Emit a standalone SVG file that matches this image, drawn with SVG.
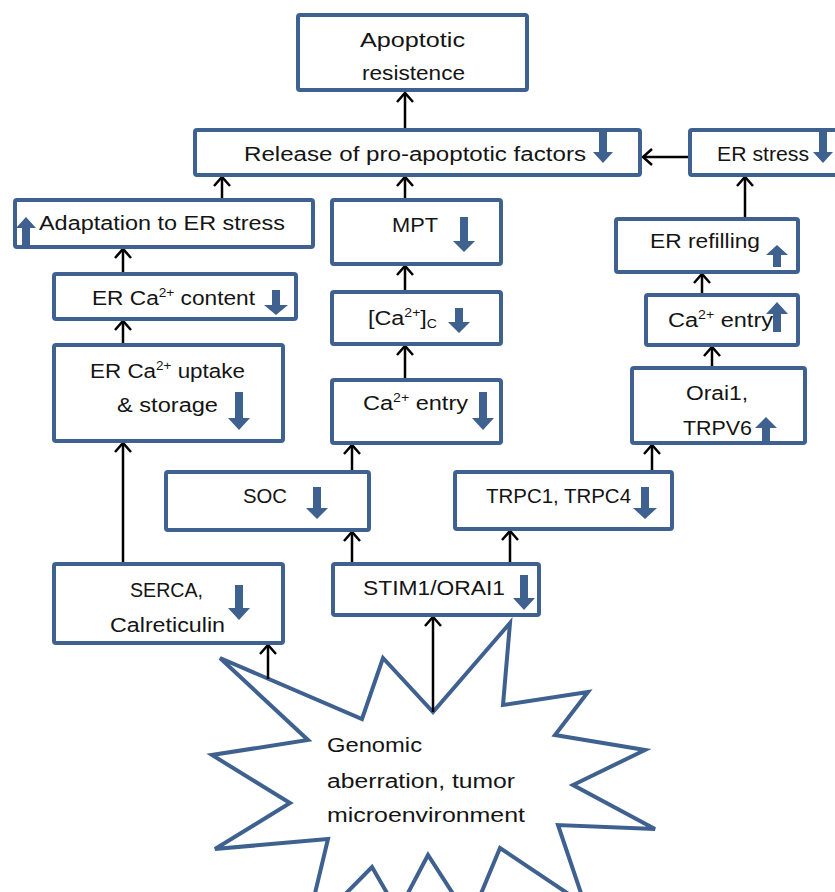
<svg xmlns="http://www.w3.org/2000/svg" xmlns:xlink="http://www.w3.org/1999/xlink" width="835" height="892" viewBox="0 0 835 892">
<style>
.box{fill:#fff;stroke:#3F6190;stroke-width:4;}
.star{fill:#fff;stroke:#3F6190;stroke-width:4;stroke-linejoin:miter;}
.ba{fill:#3F6190;}
.t{font-family:'Liberation Sans',Arial,sans-serif;font-size:20px;fill:#141414;}
.sup{font-size:12px;}
.con{fill:none;stroke:#000;stroke-width:2.5;marker-end:url(#ah);}
</style>
<defs>
<marker id="ah" markerUnits="userSpaceOnUse" markerWidth="24" markerHeight="24" viewBox="-12 -12 24 24" refX="0" refY="0" orient="auto" overflow="visible">
<path d="M-9,-8 L0,0 L-9,8" fill="none" stroke="#000" stroke-width="2.5"/>
</marker>
</defs>
<rect width="835" height="892" fill="#fff"/>

<g id="star">
<polygon class="star" points="220,658 362,719 383,658 433,712 510,623 503,705 588,692 555,735 645,750 573,785 655,829 558,825 585,905 500,848 470,920 428,855 398,912 372,867 305,935 328,839 215,849 290,803 212,755 308,740"/>
<text class="t" x="327" y="752" textLength="95" lengthAdjust="spacingAndGlyphs">Genomic</text>
<text class="t" x="327" y="788" textLength="188" lengthAdjust="spacingAndGlyphs">aberration, tumor</text>
<text class="t" x="327" y="822" textLength="198" lengthAdjust="spacingAndGlyphs">microenvironment</text>
</g>

<g id="connectors">
<path class="con" d="M405,128 V93"/>
<path class="con" d="M222,198 V177"/>
<path class="con" d="M405,198 V177"/>
<path class="con" d="M688,157 H643"/>
<path class="con" d="M745,217 V177"/>
<path class="con" d="M123,272 V249"/>
<path class="con" d="M123,343 V321"/>
<path class="con" d="M405,290 V266"/>
<path class="con" d="M405,378 V346"/>
<path class="con" d="M352,470 V445"/>
<path class="con" d="M352,562 V532"/>
<path class="con" d="M510,562 V531"/>
<path class="con" d="M652,470 V445"/>
<path class="con" d="M712,366 V347"/>
<path class="con" d="M702,293 V274"/>
<path class="con" d="M123,562 V443"/>
<path class="con" d="M268,679 V645"/>
<path class="con" d="M433,712 V617"/>
</g>

<g id="apoptotic">
<rect class="box" x="298" y="15" width="229" height="75" rx="2"/>
<text class="t" x="360" y="47" textLength="105" lengthAdjust="spacingAndGlyphs">Apoptotic</text>
<text class="t" x="362" y="80" textLength="103" lengthAdjust="spacingAndGlyphs">resistence</text>
</g>

<g id="release">
<rect class="box" x="195" y="130" width="445" height="45" rx="2"/>
<text class="t" x="244" y="161" textLength="342" lengthAdjust="spacingAndGlyphs">Release of pro-apoptotic factors</text>
<path class="ba" d="M599,131 H607 V152 H613 L603,163 L593,152 H599 Z"/>
</g>

<g id="er-stress">
<rect class="box" x="690" y="130" width="150" height="45" rx="2"/>
<text class="t" x="717" y="161" textLength="92" lengthAdjust="spacingAndGlyphs">ER stress</text>
<path class="ba" d="M819,131 H827 V152 H833 L823,163 L813,152 H819 Z"/>
</g>

<g id="adaptation">
<rect class="box" x="15" y="200" width="298" height="47" rx="2"/>
<text class="t" x="39" y="230" textLength="246" lengthAdjust="spacingAndGlyphs">Adaptation to ER stress</text>
<path class="ba" d="M26,217 L36,228 H30 V247 H22 V228 H16 Z"/>
</g>

<g id="mpt">
<rect class="box" x="332" y="200" width="169" height="64" rx="2"/>
<text class="t" x="392" y="232" textLength="46" lengthAdjust="spacingAndGlyphs">MPT</text>
<path class="ba" d="M460,217 H468 V241 H475 L464,252 L453,241 H460 Z"/>
</g>

<g id="er-refilling">
<rect class="box" x="616" y="219" width="182" height="53" rx="2"/>
<text class="t" x="650" y="248" textLength="110" lengthAdjust="spacingAndGlyphs">ER refilling</text>
<path class="ba" d="M777,245 L788,255 H781 V267 H773 V255 H766 Z"/>
</g>

<g id="er-ca-content">
<rect class="box" x="54" y="274" width="242" height="45" rx="2"/>
<text class="t" x="92" y="305" textLength="163" lengthAdjust="spacingAndGlyphs">ER Ca<tspan class="sup" dy="-8">2+</tspan><tspan dy="8"> content</tspan></text>
<path class="ba" d="M272,290 H280 V305 H288 L276,315 L264,305 H272 Z"/>
</g>

<g id="ca-c">
<rect class="box" x="332" y="292" width="169" height="52" rx="2"/>
<text class="t" x="368" y="325" textLength="69" lengthAdjust="spacingAndGlyphs">[Ca<tspan class="sup" dy="-8">2+</tspan><tspan dy="8">]</tspan><tspan class="sup" font-size="14" dy="3">C</tspan></text>
<path class="ba" d="M455,308 H463 V322 H470 L459,333 L448,322 H455 Z"/>
</g>

<g id="ca-entry-right">
<rect class="box" x="646" y="295" width="152" height="50" rx="2"/>
<text class="t" x="668" y="327" textLength="105" lengthAdjust="spacingAndGlyphs">Ca<tspan class="sup" dy="-8">2+</tspan><tspan dy="8"> entry</tspan></text>
<path class="ba" d="M777,302 L788,314 H781 V332 H773 V314 H766 Z"/>
</g>

<g id="er-ca-uptake">
<rect class="box" x="54" y="345" width="229" height="96" rx="2"/>
<text class="t" x="90" y="378" textLength="155" lengthAdjust="spacingAndGlyphs">ER Ca<tspan class="sup" dy="-8">2+</tspan><tspan dy="8"> uptake</tspan></text>
<text class="t" x="117" y="412" textLength="101" lengthAdjust="spacingAndGlyphs">&amp; storage</text>
<path class="ba" d="M235,392 H243 V418 H250 L239,430 L228,418 H235 Z"/>
</g>

<g id="ca-entry-mid">
<rect class="box" x="332" y="380" width="169" height="63" rx="2"/>
<text class="t" x="363" y="410" textLength="105" lengthAdjust="spacingAndGlyphs">Ca<tspan class="sup" dy="-8">2+</tspan><tspan dy="8"> entry</tspan></text>
<path class="ba" d="M479,392 H487 V418 H494 L483,430 L472,418 H479 Z"/>
</g>

<g id="orai1-trpv6">
<rect class="box" x="632" y="368" width="173" height="75" rx="2"/>
<text class="t" x="686" y="400" textLength="62" lengthAdjust="spacingAndGlyphs">Orai1,</text>
<text class="t" x="683" y="435" textLength="69" lengthAdjust="spacingAndGlyphs">TRPV6</text>
<path class="ba" d="M766,417 L777,428 H770 V442 H762 V428 H755 Z"/>
</g>

<g id="soc">
<rect class="box" x="166" y="472" width="203" height="58" rx="2"/>
<text class="t" x="243" y="503" textLength="44" lengthAdjust="spacingAndGlyphs">SOC</text>
<path class="ba" d="M313,487 H321 V508 H328 L317,519 L306,508 H313 Z"/>
</g>

<g id="trpc">
<rect class="box" x="455" y="472" width="217" height="57" rx="2"/>
<text class="t" x="486" y="503" textLength="145" lengthAdjust="spacingAndGlyphs">TRPC1, TRPC4</text>
<path class="ba" d="M641,487 H649 V508 H657 L645,519 L633,508 H641 Z"/>
</g>

<g id="serca">
<rect class="box" x="54" y="564" width="229" height="79" rx="2"/>
<text class="t" x="130" y="597" textLength="73" lengthAdjust="spacingAndGlyphs">SERCA,</text>
<text class="t" x="110" y="632" textLength="115" lengthAdjust="spacingAndGlyphs">Calreticulin</text>
<path class="ba" d="M235,585 H243 V608 H250 L239,620 L228,608 H235 Z"/>
</g>

<g id="stim1-orai1">
<rect class="box" x="333" y="564" width="206" height="51" rx="2"/>
<text class="t" x="363" y="595" textLength="142" lengthAdjust="spacingAndGlyphs">STIM1/ORAI1</text>
<path class="ba" d="M520,575 H528 V598 H535 L524,610 L513,598 H520 Z"/>
</g>
</svg>
